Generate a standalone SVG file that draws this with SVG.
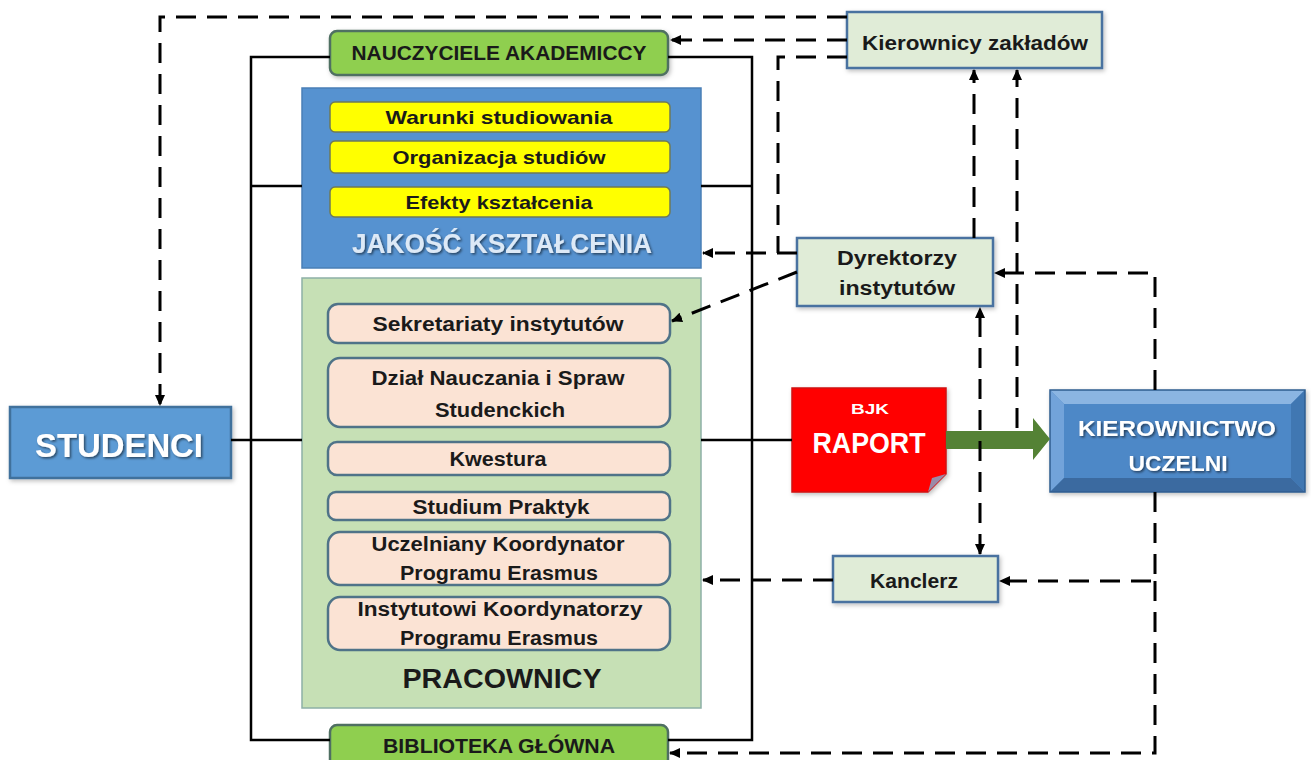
<svg xmlns="http://www.w3.org/2000/svg" width="1311" height="760" viewBox="0 0 1311 760">
<defs>
<style>
text{font-family:"Liberation Sans",Arial,sans-serif;text-anchor:middle}
.dk{fill:#1a1a1a;font-weight:bold}
.wt{fill:#ffffff}
.solid{fill:none;stroke:#000;stroke-width:2.5}
.dash{fill:none;stroke:#000;stroke-width:3;stroke-dasharray:20 11}
.arr{marker-end:url(#ah)}
.lt{fill:#e0ecd7;stroke:#4a72a0;stroke-width:2.5}
.yel{fill:#ffff00;stroke:#6e7a58;stroke-width:1.5}
.sal{fill:#fbe3d4;stroke:#4f7388;stroke-width:2.5}
.grn{fill:#8fcf4f;stroke:#4f6f62;stroke-width:2.5}
</style>
<marker id="ah" markerUnits="userSpaceOnUse" markerWidth="11" markerHeight="10" refX="10" refY="5" orient="auto-start-reverse">
<path d="M0,0 L11,5 L0,10 Z" fill="#000"/>
</marker>
<filter id="sh" x="-10%" y="-10%" width="120%" height="130%">
<feDropShadow dx="1.5" dy="2" stdDeviation="2" flood-color="#000" flood-opacity="0.25"/>
</filter>
<filter id="tsh" x="-10%" y="-20%" width="120%" height="150%">
<feDropShadow dx="1.5" dy="1.5" stdDeviation="1" flood-color="#000" flood-opacity="0.55"/>
</filter>
</defs>
<rect width="1311" height="760" fill="#ffffff"/>

<g id="kierownicy">
<rect class="lt" x="847" y="12" width="255" height="56" filter="url(#sh)"/>
<text class="dk" x="975" y="50" font-size="21" textLength="226" lengthAdjust="spacingAndGlyphs">Kierownicy zakładów</text>
</g>

<g id="nauczyciele">
<rect class="grn" x="330" y="31" width="338" height="44" rx="7" filter="url(#sh)"/>
<text class="dk" x="499" y="60" font-size="21" textLength="295" lengthAdjust="spacingAndGlyphs">NAUCZYCIELE AKADEMICCY</text>
</g>

<g id="jakosc">
<rect x="302" y="88" width="399" height="180" fill="#5692d0" stroke="#4a7fb6" stroke-width="1.5"/>
<text x="502" y="253" font-size="28" font-weight="bold" fill="#dde9f6" filter="url(#tsh)" textLength="300" lengthAdjust="spacingAndGlyphs">JAKOŚĆ KSZTAŁCENIA</text>
</g>
<g id="warunki">
<rect class="yel" x="330" y="102" width="340" height="30" rx="5"/>
<text class="dk" x="499" y="124" font-size="19" textLength="227" lengthAdjust="spacingAndGlyphs">Warunki studiowania</text>
</g>
<g id="organizacja">
<rect class="yel" x="330" y="141" width="340" height="32" rx="5"/>
<text class="dk" x="499" y="164" font-size="19" textLength="213" lengthAdjust="spacingAndGlyphs">Organizacja studiów</text>
</g>
<g id="efekty">
<rect class="yel" x="330" y="187" width="340" height="30" rx="5"/>
<text class="dk" x="499" y="209" font-size="19" textLength="187" lengthAdjust="spacingAndGlyphs">Efekty kształcenia</text>
</g>

<g id="pracownicy">
<rect x="302" y="278" width="399" height="430" fill="#c6e0b5" stroke="#8db0a6" stroke-width="1.5"/>
<text class="dk" x="502" y="688" font-size="27" textLength="199" lengthAdjust="spacingAndGlyphs">PRACOWNICY</text>
</g>
<g id="sekretariaty">
<rect class="sal" x="328" y="304" width="342" height="39" rx="10"/>
<text class="dk" x="498" y="331" font-size="20" textLength="251" lengthAdjust="spacingAndGlyphs">Sekretariaty instytutów</text>
</g>
<g id="dzial">
<rect class="sal" x="328" y="358" width="342" height="69" rx="12"/>
<text class="dk" x="498" y="385" font-size="20" textLength="253" lengthAdjust="spacingAndGlyphs">Dział Nauczania i Spraw</text>
<text class="dk" x="500" y="417" font-size="20" textLength="130" lengthAdjust="spacingAndGlyphs">Studenckich</text>
</g>
<g id="kwestura">
<rect class="sal" x="328" y="442" width="342" height="33" rx="9"/>
<text class="dk" x="498" y="466" font-size="20" textLength="97" lengthAdjust="spacingAndGlyphs">Kwestura</text>
</g>
<g id="studium">
<rect class="sal" x="328" y="492" width="342" height="28" rx="8"/>
<text class="dk" x="501" y="514" font-size="20" textLength="177" lengthAdjust="spacingAndGlyphs">Studium Praktyk</text>
</g>
<g id="uczelniany">
<rect class="sal" x="328" y="532" width="342" height="53" rx="12"/>
<text class="dk" x="498" y="551" font-size="20" textLength="253" lengthAdjust="spacingAndGlyphs">Uczelniany Koordynator</text>
<text class="dk" x="499" y="580" font-size="20" textLength="198" lengthAdjust="spacingAndGlyphs">Programu Erasmus</text>
</g>
<g id="instytutowi">
<rect class="sal" x="328" y="597" width="342" height="53" rx="12"/>
<text class="dk" x="500" y="616" font-size="20" textLength="285" lengthAdjust="spacingAndGlyphs">Instytutowi Koordynatorzy</text>
<text class="dk" x="499" y="645" font-size="20" textLength="198" lengthAdjust="spacingAndGlyphs">Programu Erasmus</text>
</g>

<g id="biblioteka">
<rect class="grn" x="330" y="725" width="338" height="44" rx="7"/>
<text class="dk" x="499" y="753" font-size="21" textLength="232" lengthAdjust="spacingAndGlyphs">BIBLIOTEKA GŁÓWNA</text>
</g>

<g id="studenci">
<rect x="10" y="407" width="221" height="71" fill="#5b9bd5" stroke="#41719c" stroke-width="2.5" filter="url(#sh)"/>
<text class="wt" x="119" y="457" font-size="34" font-weight="bold" filter="url(#tsh)" textLength="168" lengthAdjust="spacingAndGlyphs">STUDENCI</text>
</g>

<g id="dyrektorzy">
<rect class="lt" x="797" y="238" width="196" height="68" filter="url(#sh)"/>
<text class="dk" x="897" y="265" font-size="20" textLength="120" lengthAdjust="spacingAndGlyphs">Dyrektorzy</text>
<text class="dk" x="897" y="295" font-size="20" textLength="116" lengthAdjust="spacingAndGlyphs">instytutów</text>
</g>

<g id="raport">
<path d="M792,388 H946 V474 L928,492 H792 Z" fill="#ff0000" stroke="#d01010" stroke-width="1.5" filter="url(#sh)"/>
<path d="M946,474 L928,492 L932,478 Z" fill="#9a8aa8"/>
<text class="wt" x="870" y="414" font-size="15" font-weight="bold" textLength="38" lengthAdjust="spacingAndGlyphs">BJK</text>
<text class="wt" x="869" y="453" font-size="29" font-weight="bold" textLength="113" lengthAdjust="spacingAndGlyphs">RAPORT</text>
</g>

<g id="kierownictwo" filter="url(#sh)">
<rect x="1050" y="390" width="255" height="102" fill="#4e88c7"/>
<polygon points="1050,390 1305,390 1291,404 1064,404" fill="#8bb5e2"/>
<polygon points="1050,390 1064,404 1064,478 1050,492" fill="#72a3da"/>
<polygon points="1050,492 1064,478 1291,478 1305,492" fill="#3a6aa0"/>
<polygon points="1305,390 1291,404 1291,478 1305,492" fill="#4177b2"/>
<rect x="1050" y="390" width="255" height="102" fill="none" stroke="#2f5d90" stroke-width="1.5"/>
<text class="wt" x="1177" y="436" font-size="22" font-weight="bold" filter="url(#tsh)" textLength="198" lengthAdjust="spacingAndGlyphs">KIEROWNICTWO</text>
<text class="wt" x="1178" y="471" font-size="22" font-weight="bold" filter="url(#tsh)" textLength="99" lengthAdjust="spacingAndGlyphs">UCZELNI</text>
</g>

<g id="kanclerz">
<rect class="lt" x="833" y="556" width="165" height="46" filter="url(#sh)"/>
<text class="dk" x="914" y="588" font-size="20" textLength="88" lengthAdjust="spacingAndGlyphs">Kanclerz</text>
</g>

<g id="connectors">
<path d="M946,431 H1033 V418 L1050,439 L1033,460 V449 H946 Z" fill="#548235"/>
<path class="solid" d="M330,57 H251 V740 H330"/>
<path class="solid" d="M668,57 H752 V740 H668"/>
<path class="solid" d="M251,186 H302 M701,186 H752"/>
<path class="solid" d="M231,440 H302 M701,440 H792"/>
<path class="dash arr" d="M847,17 H160 V405"/>
<path class="dash arr" d="M847,40 H671"/>
<path class="dash" d="M847,57 H778 V253"/>
<path class="dash arr" d="M797,253 H703"/>
<path class="dash arr" d="M797,272 L672,321"/>
<path class="dash arr" d="M974,238 V70"/>
<path class="dash arr" d="M1017,428 V70"/>
<path class="dash arr" d="M980,554 V308" marker-start="url(#ah)"/>
<path class="dash arr" d="M1155,390 V273 H995"/>
<path class="dash arr" d="M1155,492 V581 H1000"/>
<path class="dash arr" d="M1155,581 V753 H670"/>
<path class="dash arr" d="M833,580 H703"/>
</g>
</svg>
